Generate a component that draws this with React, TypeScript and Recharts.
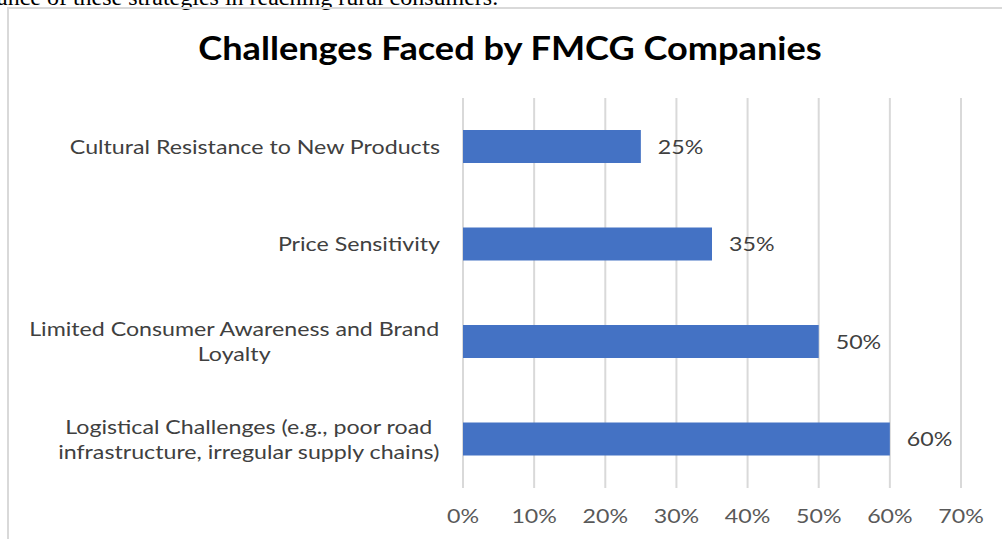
import React from "react";
import { BarChart, Bar, XAxis, YAxis, CartesianGrid, LabelList } from "recharts";

const categories = [
  "Cultural Resistance to New Products",
  "Price Sensitivity",
  "Limited Consumer Awareness and Brand Loyalty",
  "Logistical Challenges (e.g., poor road infrastructure, irregular supply chains)",
];
const labelLines = [
  ["Cultural Resistance to New Products"],
  ["Price Sensitivity"],
  ["Limited Consumer Awareness and Brand", "Loyalty"],
  ["Logistical Challenges (e.g., poor road", "infrastructure, irregular supply chains)"],
];
const shares = [0.25, 0.35, 0.5, 0.6];
const xTicks = [0, 0.1, 0.2, 0.3, 0.4, 0.5, 0.6, 0.7];

const data = categories.map((name, i) => ({ name, value: shares[i], lines: labelLines[i] }));

const BLUE = "#4472C4";
const GRID = "#d9d9d9";
const TEXT = "#404040";
const AXIS_TEXT = "#595959";
const FONT = "Lato, 'Open Sans', sans-serif";
const SIZE = 20;
const SX = 1.16; // the reference text is drawn a bit wide
const LABEL_RIGHT = 440;

const pct = (v: number) => `${Math.round(v * 100)}%`;

let ctx: CanvasRenderingContext2D | null = null;
function textWidth(s: string) {
  if (!ctx) ctx = document.createElement("canvas").getContext("2d");
  if (!ctx) return s.length * 9.5 * SX;
  ctx.font = `${SIZE}px Lato`;
  return ctx.measureText(s).width * SX;
}

function WideText({ x, y, anchor, fill, children }: any) {
  return (
    <text
      transform={`translate(${x},${y}) scale(${SX},1)`}
      x={0}
      y={0}
      dy="0.35em"
      textAnchor={anchor}
      fill={fill}
      fontSize={SIZE}
      fontFamily={FONT}
    >
      {children}
    </text>
  );
}

function CategoryTick({ y, payload }: any) {
  const row = data.find((d) => d.name === payload.value);
  const lines = row ? row.lines : [payload.value];
  const lh = 25;
  const top = y - ((lines.length - 1) * lh) / 2;
  if (lines.length === 1) {
    return (
      <WideText x={LABEL_RIGHT} y={y} anchor="end" fill={TEXT}>
        {lines[0]}
      </WideText>
    );
  }
  const maxW = Math.max(...lines.map(textWidth));
  const cx = LABEL_RIGHT - maxW / 2;
  return (
    <g>
      {lines.map((l, i) => (
        <WideText key={i} x={cx} y={top + i * lh} anchor="middle" fill={TEXT}>
          {l}
        </WideText>
      ))}
    </g>
  );
}

function PercentTick({ x, y, payload }: any) {
  return (
    <WideText x={x} y={y + 20} anchor="middle" fill={AXIS_TEXT}>
      {pct(payload.value)}
    </WideText>
  );
}

function ValueLabel({ x, y, width, height, value }: any) {
  return (
    <WideText x={x + width + 17} y={y + height / 2} anchor="start" fill={TEXT}>
      {pct(value)}
    </WideText>
  );
}

export default function App() {
  return (
    <div style={{ position: "absolute", left: 0, top: 0, width: 1002, height: 539, overflow: "hidden", background: "#fff" }}>
      <div
        style={{
          position: "absolute",
          left: -3,
          top: -16,
          fontFamily: "'Liberation Serif', 'Times New Roman', serif",
          fontSize: 24,
          color: "#000",
          whiteSpace: "nowrap",
        }}
      >
        ance of these strategies in reaching rural consumers.
      </div>
      <div
        style={{
          position: "absolute",
          left: 7,
          top: 7,
          width: 1100,
          height: 600,
          border: "2px solid #d9d9d9",
          boxSizing: "border-box",
        }}
      />
      <div
        style={{
          position: "absolute",
          left: 0,
          top: 28,
          width: 1020,
          textAlign: "center",
          fontFamily: FONT,
          fontWeight: 700,
          fontSize: 32,
          color: "#000",
          transform: "scaleX(1.13)",
          transformOrigin: "510px 0",
        }}
      >
        Challenges Faced by FMCG Companies
      </div>
      <div style={{ position: "absolute", left: 0, top: 0 }}>
        <BarChart
          width={1002}
          height={539}
          data={data}
          layout="vertical"
          margin={{ top: 98, right: 41, bottom: 21, left: 0 }}
          barCategoryGap={0}
        >
          <CartesianGrid horizontal={false} stroke={GRID} strokeWidth={2} />
          <XAxis
            type="number"
            domain={[0, 0.7]}
            ticks={xTicks}
            axisLine={false}
            tickLine={false}
            height={30}
            tick={<PercentTick />}
            interval={0}
          />
          <YAxis
            type="category"
            dataKey="name"
            width={463}
            axisLine={false}
            tickLine={false}
            tick={<CategoryTick />}
            interval={0}
          />
          <Bar dataKey="value" fill={BLUE} barSize={33} isAnimationActive={false}>
            <LabelList dataKey="value" content={<ValueLabel />} />
          </Bar>
        </BarChart>
      </div>
    </div>
  );
}
